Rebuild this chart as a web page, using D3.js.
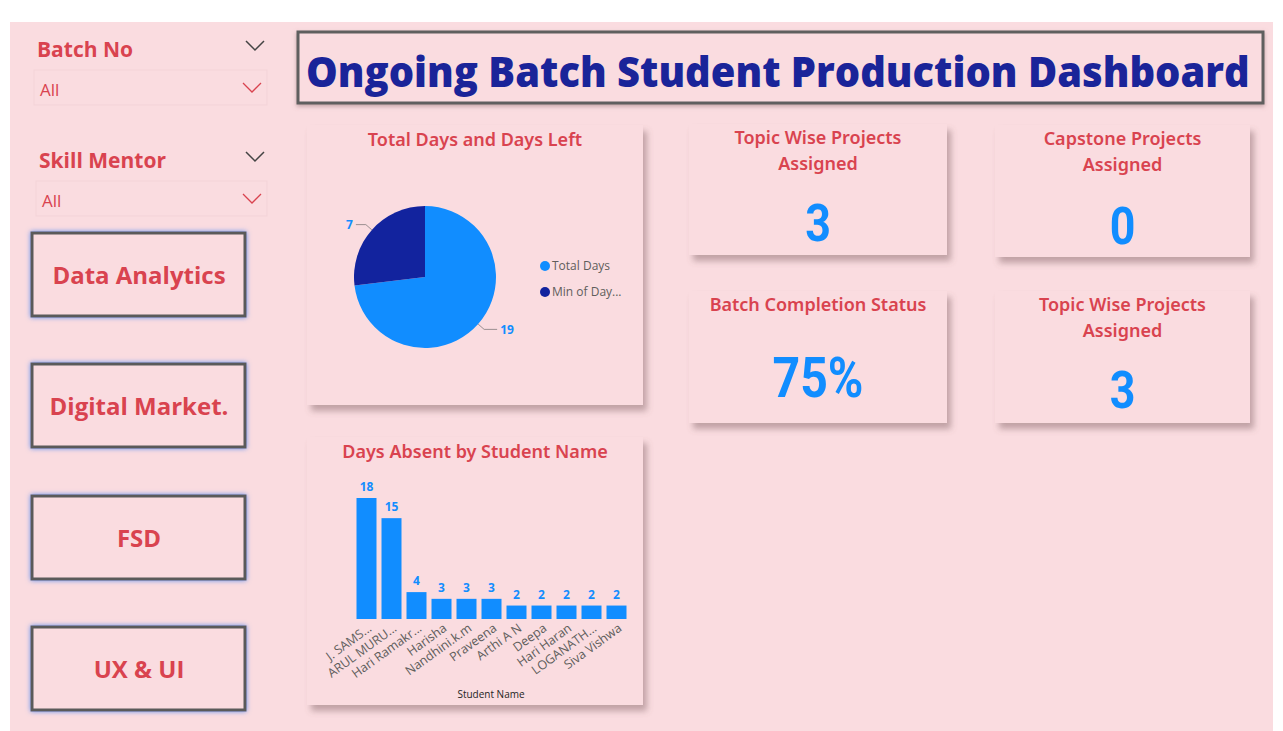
<!DOCTYPE html>
<html><head><meta charset="utf-8">
<script src="https://cdn.jsdelivr.net/npm/d3@7"></script>
<style>
html,body{margin:0;padding:0;background:#fff;}
svg{display:block;}
</style></head>
<body>
<svg id="c" width="1283" height="731"></svg>
<script>
// ---- data ----
const pieLabels = ["Total Days", "Min of Day..."];
const pieValues = [19, 7];
const students = ["J. SAMS...", "ARUL MURU...", "Hari Ramakr...", "Harisha", "Nandhini.k.m", "Praveena", "Arthi A N", "Deepa", "Hari Haran", "LOGANATH...", "Siva Vishwa"];
const daysAbsent = [18, 15, 4, 3, 3, 3, 2, 2, 2, 2, 2];
const kpiTitles = [["Topic Wise Projects", "Assigned"], ["Capstone Projects", "Assigned"], ["Batch Completion Status"], ["Topic Wise Projects", "Assigned"]];
const kpiValues = ["3", "0", "75%", "3"];
const slicerTitles = ["Batch No", "Skill Mentor"];
const slicerValues = ["All", "All"];
const buttons = ["Data Analytics", "Digital Market.", "FSD", "UX & UI"];
const dashTitle = "Ongoing Batch Student Production Dashboard";

// ---- style ----
const PINK = "#FADCE0", RED = "#D9434F", BLUE = "#118DFF", NAVY = "#12239E";
const segoe = "'Open Sans', 'Noto Sans', sans-serif";
const comic = "'Comic Sans MS', 'Noto Sans', sans-serif";

const svg = d3.select("#c");
const defs = svg.append("defs");
const sh = defs.append("filter").attr("id", "shadow").attr("x", "-10%").attr("y", "-10%").attr("width", "130%").attr("height", "130%");
sh.append("feDropShadow").attr("dx", 4).attr("dy", 6).attr("stdDeviation", 3).attr("flood-color", "#7a5a5e").attr("flood-opacity", 0.45);
const glow = defs.append("filter").attr("id", "glow").attr("x", "-10%").attr("y", "-10%").attr("width", "120%").attr("height", "120%");
glow.append("feDropShadow").attr("dx", 0).attr("dy", 0).attr("stdDeviation", 2.5).attr("flood-color", "#5f8ff0").attr("flood-opacity", 1);
const tsh = defs.append("filter").attr("id", "tshadow").attr("x", "-5%").attr("y", "-20%").attr("width", "110%").attr("height", "150%");
tsh.append("feDropShadow").attr("dx", 0).attr("dy", 2).attr("stdDeviation", 2).attr("flood-color", "#8a6a6e").attr("flood-opacity", 0.5);

// page background
svg.append("rect").attr("x", 10).attr("y", 22).attr("width", 1263).attr("height", 709).attr("fill", PINK);

// ---- slicers ----
const slicerY = [57, 168];
const slicerX = [37, 39];
slicerTitles.forEach((t, i) => {
  const y = slicerY[i];
  svg.append("text").attr("x", slicerX[i]).attr("y", y).text(t)
    .attr("font-family", segoe).attr("font-weight", 700).attr("font-size", 21).attr("fill", RED);
  svg.append("path").attr("d", `M246,${y - 16} L255,${y - 7} L264,${y - 16}`).attr("fill", "none").attr("stroke", "#444").attr("stroke-width", 1.5);
  const by = y + 13;
  svg.append("rect").attr("x", 34 + i * 2).attr("y", by).attr("width", 233 - i * 2).attr("height", 35)
    .attr("fill", "none").attr("stroke", "#f3d3d8").attr("stroke-width", 1);
  svg.append("text").attr("x", 40 + i * 2).attr("y", by + 26).text(slicerValues[i])
    .attr("font-family", segoe).attr("font-size", 17).attr("fill", RED);
  svg.append("path").attr("d", `M243,${by + 13} L252,${by + 22} L261,${by + 13}`).attr("fill", "none").attr("stroke", RED).attr("stroke-width", 1.3);
});

// ---- buttons ----
const btnY = [233, 364, 496, 627];
buttons.forEach((b, i) => {
  svg.append("rect").attr("x", 32).attr("y", btnY[i]).attr("width", 213).attr("height", 83)
    .attr("fill", PINK).attr("stroke", "#5a5a5a").attr("stroke-width", 3).attr("filter", "url(#glow)");
  svg.append("text").attr("x", 139).attr("y", btnY[i] + 43).attr("dy", "0.35em").attr("text-anchor", "middle").text(b)
    .attr("font-family", segoe).attr("font-weight", 700).attr("font-size", 24).attr("fill", RED);
});

// ---- title ----
svg.append("rect").attr("x", 298).attr("y", 32).attr("width", 965).attr("height", 71)
  .attr("fill", PINK).attr("stroke", "#5e5e5e").attr("stroke-width", 3).attr("filter", "url(#tshadow)");
const tg = svg.append("g");
const tt = tg.append("text").attr("x", 0).attr("y", 0).text(dashTitle)
  .attr("font-family", segoe).attr("font-weight", 800).attr("font-size", 42).attr("fill", "#1A2499");
const tw = tt.node().getComputedTextLength();
tg.attr("transform", `translate(306,87) scale(${944 / tw},1)`);

// ---- card helper ----
function card(x, y, w, h) {
  svg.append("rect").attr("x", x).attr("y", y).attr("width", w).attr("height", h)
    .attr("fill", PINK).attr("filter", "url(#shadow)");
}

// ---- pie card ----
card(307, 125, 336, 280);
svg.append("text").attr("x", 475).attr("y", 146).attr("text-anchor", "middle").text("Total Days and Days Left")
  .attr("font-family", comic).attr("font-weight", 600).attr("font-size", 18).attr("fill", RED);
const cx = 425, cy = 277, R = 71;
const pie = d3.pie().sort(null).value(d => d)(pieValues);
const arc = d3.arc().innerRadius(0).outerRadius(R);
const pieColors = d3.scaleOrdinal().domain(pieLabels).range([BLUE, NAVY]);
const pg = svg.append("g").attr("transform", `translate(${cx},${cy})`);
pg.selectAll("path").data(pie).join("path").attr("d", arc).attr("fill", (d, i) => pieColors(pieLabels[i]));
pie.forEach((d, i) => {
  const a = (d.startAngle + d.endAngle) / 2;
  const p1 = [R * Math.sin(a), -R * Math.cos(a)];
  const p2 = [(R + 8) * Math.sin(a), -(R + 8) * Math.cos(a)];
  const right = Math.sin(a) > 0;
  const p3 = [p2[0] + (right ? 13 : -10), p2[1]];
  pg.append("polyline").attr("points", [p1, p2, p3].map(p => p.join(",")).join(" "))
    .attr("fill", "none").attr("stroke", "#9a8f90").attr("stroke-width", 1);
  pg.append("text").attr("x", p3[0] + (right ? 3 : -3)).attr("y", p3[1]).attr("dy", "0.35em")
    .attr("text-anchor", right ? "start" : "end").text(pieValues[i])
    .attr("font-family", segoe).attr("font-weight", 700).attr("font-size", 12).attr("fill", BLUE);
});
pieLabels.forEach((l, i) => {
  const ly = 266 + i * 26;
  svg.append("circle").attr("cx", 545).attr("cy", ly).attr("r", 5).attr("fill", pieColors(l));
  svg.append("text").attr("x", 552).attr("y", ly).attr("dy", "0.35em").text(l)
    .attr("font-family", segoe).attr("font-size", 12).attr("fill", "#605E5C");
});

// ---- bar card ----
card(307, 437, 336, 268);
svg.append("text").attr("x", 475).attr("y", 458).attr("text-anchor", "middle").text("Days Absent by Student Name")
  .attr("font-family", comic).attr("font-weight", 600).attr("font-size", 18).attr("fill", RED);
const x = d3.scaleBand().domain(students).range([354, 629]).paddingInner(0.2).paddingOuter(0.1);
const y = d3.scaleLinear().domain([0, 18]).range([619, 498]);
svg.append("g").selectAll("rect").data(students).join("rect")
  .attr("x", d => x(d)).attr("width", x.bandwidth())
  .attr("y", (d, i) => y(daysAbsent[i])).attr("height", (d, i) => y(0) - y(daysAbsent[i]))
  .attr("fill", BLUE);
svg.append("g").selectAll("text").data(students).join("text")
  .attr("x", d => x(d) + x.bandwidth() / 2).attr("y", (d, i) => y(daysAbsent[i]) - 7)
  .attr("text-anchor", "middle").text((d, i) => daysAbsent[i])
  .attr("font-family", segoe).attr("font-weight", 700).attr("font-size", 12).attr("fill", BLUE);
const xa = svg.append("g").attr("transform", `translate(0,${y(0)})`).call(d3.axisBottom(x).tickSize(0).tickPadding(0));
xa.select(".domain").remove();
xa.selectAll("text").attr("font-family", segoe).attr("font-size", 12.5).attr("fill", "#605E5C")
  .attr("text-anchor", "end").attr("dy", 0)
  .attr("transform", "translate(6,11) rotate(-36)");
svg.append("text").attr("x", 491).attr("y", 698).attr("text-anchor", "middle").text("Student Name")
  .attr("font-family", segoe).attr("font-size", 10).attr("fill", "#252423");

// ---- KPI cards ----
const kpiBoxes = [[689, 124, 258, 131], [995, 125, 255, 132], [689, 291, 258, 132], [995, 291, 255, 132]];
const kpiValueY = [222, 225, 377, 389];
kpiBoxes.forEach((b, i) => {
  card(b[0], b[1], b[2], b[3]);
  const cxk = b[0] + b[2] / 2;
  kpiTitles[i].forEach((t, j) => {
    svg.append("text").attr("x", cxk).attr("y", b[1] + 20 + j * 26).text(t)
      .attr("text-anchor", "middle").attr("font-family", comic).attr("font-weight", 600).attr("font-size", 18).attr("fill", RED);
  });
  const vt = svg.append("text").attr("x", cxk).attr("y", kpiValueY[i]).attr("dy", "0.36em").attr("text-anchor", "middle").text(kpiValues[i])
    .attr("font-family", "Roboto, sans-serif").attr("font-weight", 700).attr("font-size", i === 2 ? 56 : 52).attr("fill", BLUE);
  const w = vt.node().getComputedTextLength();
  vt.attr("textLength", w * 0.86).attr("lengthAdjust", "spacingAndGlyphs");
});
</script>
</body></html>
